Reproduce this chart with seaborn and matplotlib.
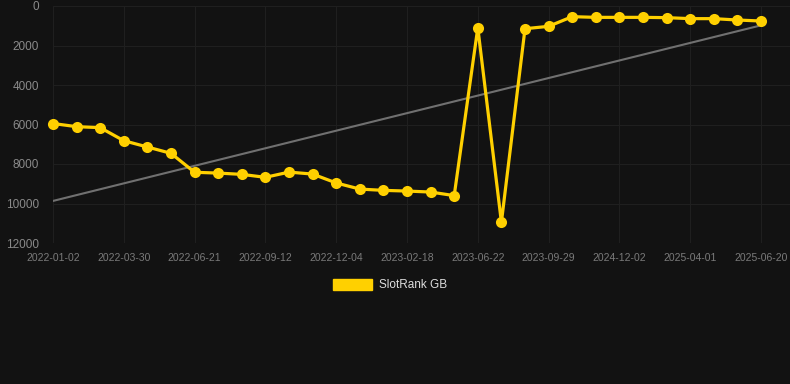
import numpy as np
import pandas as pd
import matplotlib
matplotlib.use("Agg")
import matplotlib.pyplot as plt
from matplotlib.patches import Patch
import seaborn as sns

# ---- data ----
tick_labels = ["2022-01-02", "2022-03-30", "2022-06-21", "2022-09-12", "2022-12-04",
               "2023-02-18", "2023-06-22", "2023-09-29", "2024-12-02", "2025-04-01",
               "2025-06-20"]
rank_values = [5950, 6110, 6160, 6820, 7140, 7460, 8420, 8460, 8525, 8675,
               8410, 8510, 8960, 9270, 9335, 9370, 9420, 9600, 1100, 10950,
               1150, 1030, 540, 575, 575, 575, 590, 640, 640, 710, 760]
trend_values = [9870, 980]
series_name = "SlotRank GB"

BG = "#121212"
GOLD = "#FFD000"

sns.set_theme(style="dark")
plt.rcParams["font.family"] = ["Liberation Sans", "DejaVu Sans"]

fig = plt.figure(figsize=(7.9, 3.84), dpi=100, facecolor=BG)
ax = fig.add_axes([53 / 790, 1 - 243 / 384, 1 - 53 / 790, (243 - 6) / 384])
ax.set_facecolor(BG)

n = len(rank_values)
df = pd.DataFrame({"idx": np.arange(n), "rank": rank_values})
tdf = pd.DataFrame({"idx": [0, n - 1], "rank": trend_values})

sns.lineplot(data=tdf, x="idx", y="rank", ax=ax, color="#707070", linewidth=1.5, zorder=2)
sns.lineplot(data=df, x="idx", y="rank", ax=ax, color=GOLD, linewidth=2.3,
             marker="o", markersize=8, markeredgecolor=GOLD, markeredgewidth=0,
             zorder=3, clip_on=False)

ax.set_ylim(12000, 0)
ax.set_xlim(0, (790 - 53) / ((761 - 53) / 30))
ax.set_yticks(np.arange(0, 12001, 2000))
ax.set_yticklabels([str(v) for v in range(0, 12001, 2000)])
ax.set_xticks(np.arange(0, n, 3))
ax.set_xticklabels(tick_labels)
ax.set_xlabel("")
ax.set_ylabel("")
ax.grid(True, color="#1f1f1f", linewidth=0.8)
for s in ax.spines.values():
    s.set_visible(False)
ax.tick_params(axis="y", length=0, pad=10, labelsize=8.5, labelcolor="#8a8a8a")
ax.tick_params(axis="x", length=0, pad=7, labelsize=7.5, labelcolor="#7a7a7a")

handle = Patch(facecolor=GOLD, edgecolor=GOLD)
leg = fig.legend([handle], [series_name], loc="center",
                 bbox_to_anchor=(390 / 790, 1 - 285 / 384), frameon=False,
                 fontsize=8.5, handlelength=3.3, handleheight=1.05, handletextpad=0.6)
for t in leg.get_texts():
    t.set_color("#dddddd")

fig.savefig("out.png", dpi=100, facecolor=BG)
